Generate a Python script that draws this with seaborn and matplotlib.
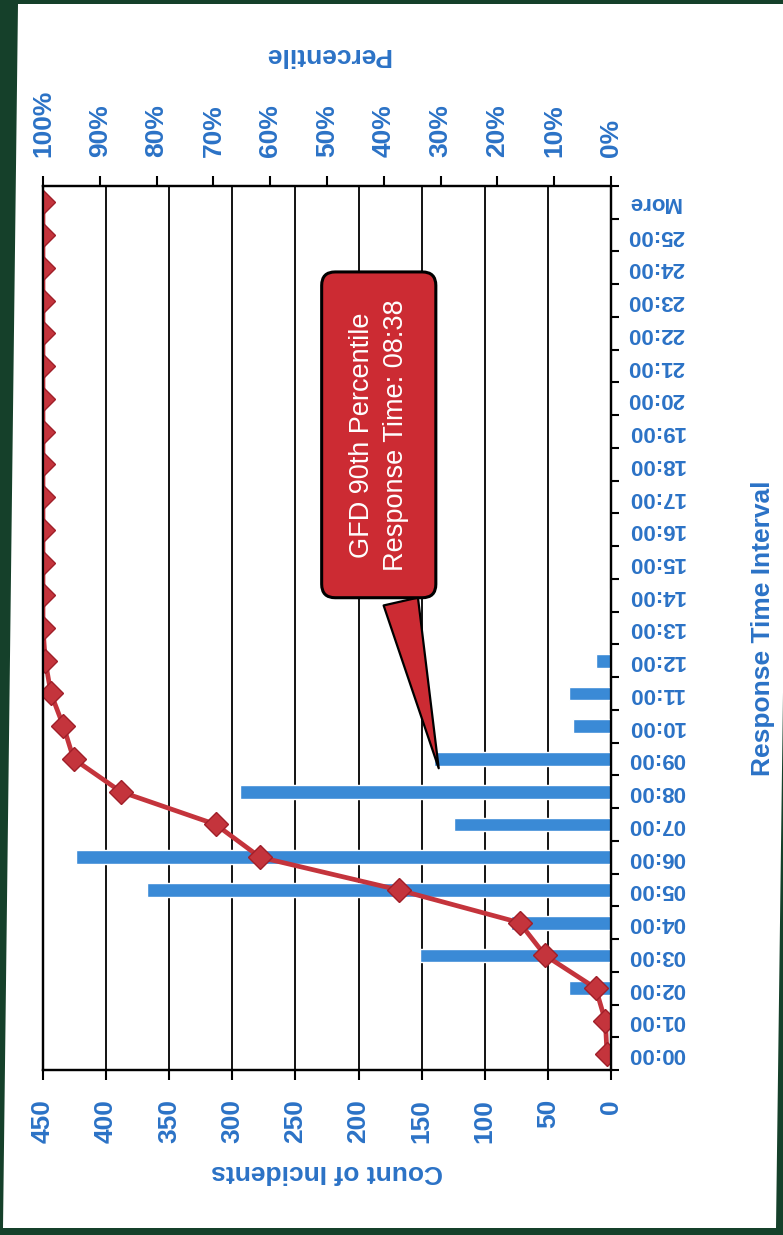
import matplotlib
matplotlib.use("Agg")
import matplotlib.pyplot as plt
from matplotlib.patches import Polygon
import seaborn as sns
import numpy as np
import pandas as pd

# response time histogram (page is photographed turned on its side)
intervals = ["00:00", "01:00", "02:00", "03:00", "04:00", "05:00", "06:00",
             "07:00", "08:00", "09:00", "10:00", "11:00", "12:00", "13:00",
             "14:00", "15:00", "16:00", "17:00", "18:00", "19:00", "20:00",
             "21:00", "22:00", "23:00", "24:00", "25:00", "More"]
counts = [0, 0, 33, 151, 79, 368, 424, 124, 294, 140, 30, 33, 12, 0,
          1, 0, 0, 0, 0, 0, 0, 0, 0, 0, 0, 0, 0]
percentiles = [0.7, 1.0, 2.7, 11.6, 16.1, 37.4, 61.8, 69.6, 86.3, 94.6, 96.4,
               98.6, 99.6, 100, 100, 100, 100, 100, 100, 100, 100, 100, 100,
               100, 100, 100, 100]
count_ticks = [0, 50, 100, 150, 200, 250, 300, 350, 400, 450]
pct_ticks = [0, 10, 20, 30, 40, 50, 60, 70, 80, 90, 100]
p90_time = "08:38"
p90_text = "GFD 90th Percentile\nResponse Time: " + p90_time
callout_tip_count = 136
callout_box = (184, 18.9)

sns.set_style("white")
plt.rcParams['font.family'] = ['Liberation Sans', 'DejaVu Sans']
plt.rcParams['font.weight'] = 'bold'

txt_blue = '#2b72c6'
bar_blue = '#3a8ad6'
line_red = '#c4343c'
box_red = '#cc2b33'

W, H = 783, 1235
fig = plt.figure(figsize=(W / 100, H / 100), dpi=100)
fig.patch.set_facecolor('#15402a')
page = Polygon([[18 / W, 1 - 4 / H], [792 / W, 1 - 4 / H],
                [776 / W, 1 - 1228 / H], [3 / W, 1 - 1228 / H]],
               closed=True, transform=fig.transFigure, fc='white', ec='none',
               zorder=-10)
fig.patches.append(page)

ax = fig.add_axes([43 / W, 1 - 1070 / H, 568 / W, 884 / H])
ax.set_facecolor('none')

df = pd.DataFrame({"Interval": intervals, "Count": counts})
sns.barplot(data=df, x="Count", y="Interval", orient="y", color=bar_blue,
            width=0.42, saturation=1, ax=ax, zorder=3)

ax2 = ax.twiny()
pos = np.arange(len(intervals))
sns.lineplot(x=percentiles, y=pos, orient="y", sort=False, ax=ax2,
             color=line_red, lw=3.4, marker='D', markersize=12,
             markeredgecolor='#a01f29', markeredgewidth=1)

ax.set_xlim(450, 0)
ax2.set_xlim(100, 0)
ax.set_ylim(-0.5, len(intervals) - 0.5)

# count axis (bottom)
ax.set_axisbelow(True)
ax.grid(axis='x', color='black', lw=1.3)
ax.grid(axis='y', visible=False)
ax.set_xticks(count_ticks)
ax.set_xticklabels([str(c) for c in count_ticks])
ax.xaxis.set_ticks_position('bottom')
ax.tick_params(axis='x', direction='out', length=7, width=1.5, color='black',
               labelsize=19, labelcolor=txt_blue, pad=14, labelrotation=90)
ax.set_xlabel("Count of Incidents", rotation=180, fontsize=19,
              fontweight='bold', color=txt_blue, labelpad=12)

# interval axis (right)
ax.yaxis.tick_right()
ax.yaxis.set_label_position('right')
ax.set_yticks(pos)
ax.set_yticklabels(intervals, va='center')
ax.set_yticks(np.arange(-0.5, len(intervals)), minor=True)
ax.tick_params(axis='y', which='major', length=0, pad=12, labelsize=16,
               labelcolor=txt_blue, labelrotation=180)
ax.tick_params(axis='y', which='minor', direction='out', length=6,
               width=1.5, color='black', right=True, left=False)
ax.set_ylabel("Response Time Interval", rotation=90, fontsize=19,
              fontweight='bold', color=txt_blue, labelpad=48)

# percentile axis (top)
ax2.set_xticks(pct_ticks)
ax2.set_xticklabels([f"{p}%" for p in pct_ticks])
ax2.tick_params(axis='x', direction='out', length=7, width=1.5,
                color='black', labelsize=19, labelcolor=txt_blue, pad=14,
                labelrotation=90)
ax2.set_xlabel("Percentile", rotation=180, fontsize=19, fontweight='bold',
               color=txt_blue, labelpad=20)
ax2.set_ylabel("")
ax2.yaxis.set_visible(False)

for a in (ax, ax2):
    for s in a.spines.values():
        s.set_color('black')
        s.set_linewidth(1.6)

ax2.annotate(p90_text, xy=(callout_tip_count, 8 + 38 / 60),
             xycoords=ax.transData, xytext=callout_box,
             textcoords=ax.transData, rotation=90, ha='center',
             va='center', color='white', fontsize=19.5, fontweight='normal',
             linespacing=1.4, zorder=10,
             bbox=dict(boxstyle='round,pad=1.0,rounding_size=0.5',
                       fc=box_red, ec='black', lw=2.2),
             arrowprops=dict(arrowstyle='wedge,tail_width=1.3,shrink_factor=0.5',
                             fc=box_red, ec='black', lw=1.6,
                             relpos=(0.75, 0.0)))

fig.savefig('out.png', dpi=100, facecolor=fig.get_facecolor())
